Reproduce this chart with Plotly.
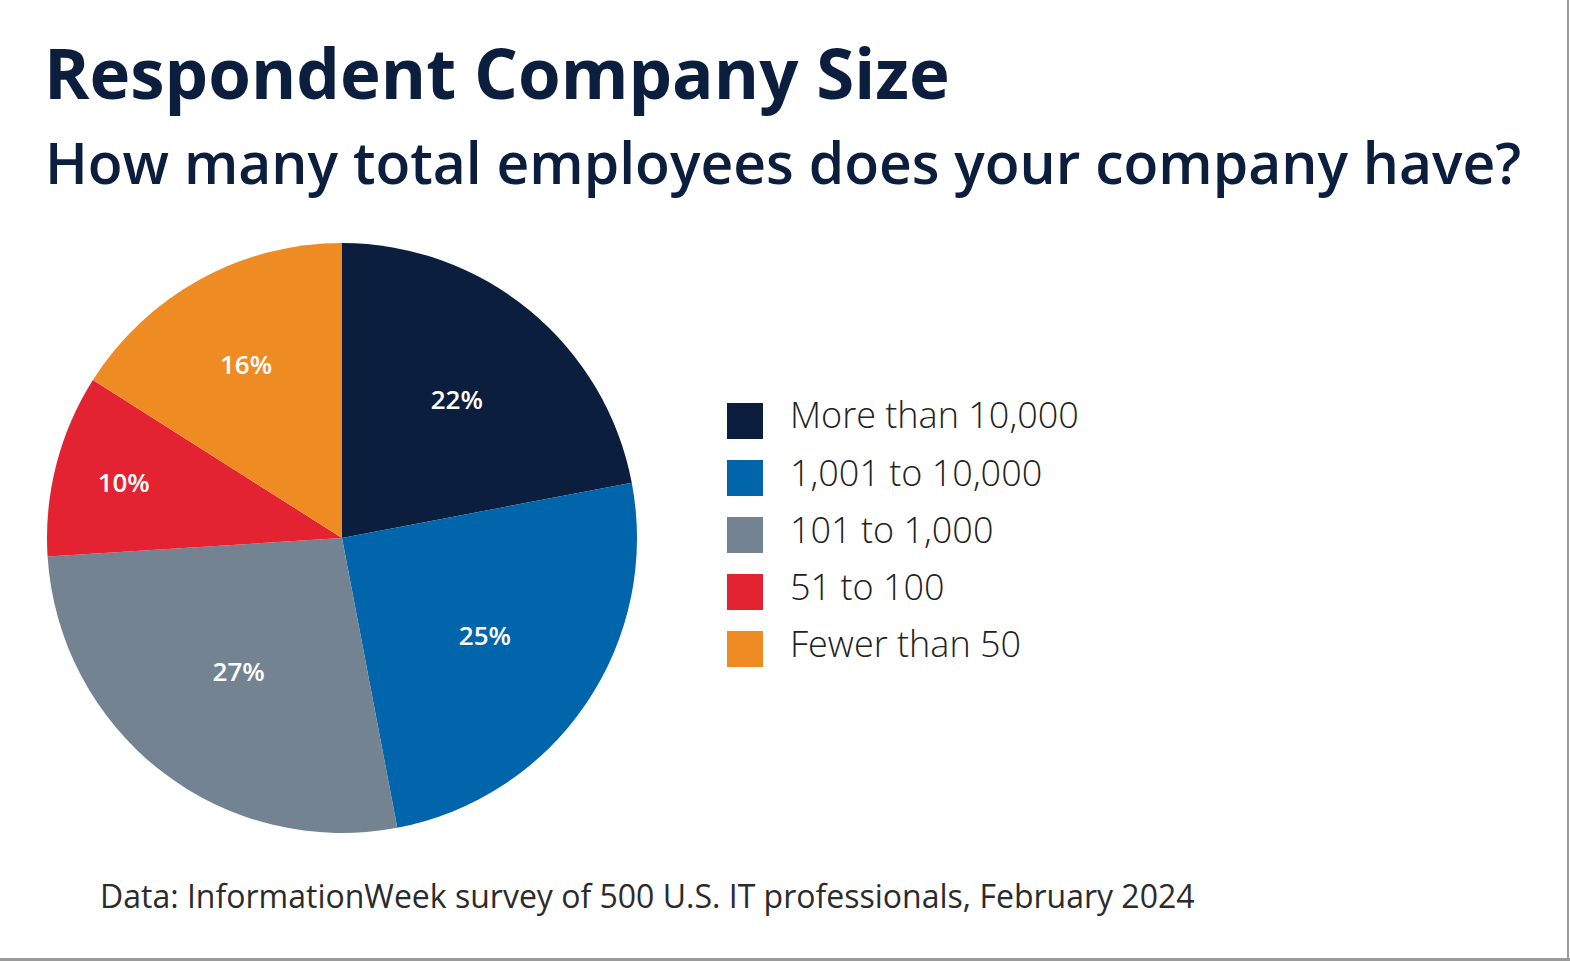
import plotly.graph_objects as go

W, H = 1570, 961

categories = ["More than 10,000", "1,001 to 10,000", "101 to 1,000", "51 to 100", "Fewer than 50"]
values = [22, 25, 27, 10, 16]
colors = ["#0B1E3D", "#0065AA", "#738391", "#E32232", "#EE8B22"]

title = "Respondent Company Size"
subtitle = "How many total employees does your company have?"
source = "Data: InformationWeek survey of 500 U.S. IT professionals, February 2024"

FONT = "Open Sans"
NAVY = "#0B1E3D"

def px_x(x):
    return x / W

def px_y(y):
    return 1 - y / H

fig = go.Figure()
fig.add_trace(go.Pie(
    labels=categories,
    values=values,
    sort=False,
    direction="clockwise",
    rotation=0,
    marker=dict(colors=colors, line=dict(width=0)),
    texttemplate="%{value}%",
    textposition="inside",
    insidetextorientation="horizontal",
    insidetextfont=dict(family=FONT, size=26, color="white", weight=600),
    domain=dict(x=[px_x(47), px_x(637)], y=[px_y(833), px_y(243)]),
    showlegend=False,
    hoverinfo="label+percent",
))

annotations = [
    dict(text=title, x=px_x(42), y=px_y(72), xanchor="left", yanchor="middle",
         font=dict(family=FONT, size=69, color=NAVY, weight=700)),
    dict(text=subtitle, x=px_x(43), y=px_y(162), xanchor="left", yanchor="middle",
         font=dict(family=FONT, size=57, color=NAVY, weight=600)),
    dict(text=source, x=px_x(98), y=px_y(895), xanchor="left", yanchor="middle",
         font=dict(family=FONT, size=32, color="#2B2B2B", weight=400)),
]
shapes = []
leg_x0, leg_y0, leg_step, sq = 727, 421, 57, 36
for i, (cat, col) in enumerate(zip(categories, colors)):
    cy = leg_y0 + i * leg_step
    shapes.append(dict(type="rect", xref="paper", yref="paper",
                       x0=px_x(leg_x0), x1=px_x(leg_x0 + sq),
                       y0=px_y(cy + sq / 2), y1=px_y(cy - sq / 2),
                       fillcolor=col, line=dict(width=0)))
    annotations.append(dict(text=cat, x=px_x(788), y=px_y(cy - 6), xanchor="left", yanchor="middle",
                            font=dict(family=FONT, size=36, color="#222222", weight=300)))

# frame lines at right and bottom edges
shapes.append(dict(type="line", xref="paper", yref="paper", x0=px_x(1568), x1=px_x(1568),
                   y0=0, y1=1, line=dict(color="#9A9A9A", width=2)))
shapes.append(dict(type="line", xref="paper", yref="paper", x0=0, x1=1,
                   y0=px_y(959.5), y1=px_y(959.5), line=dict(color="#9A9A9A", width=3)))

for a in annotations:
    a.update(xref="paper", yref="paper", showarrow=False)

fig.update_layout(
    width=W, height=H,
    margin=dict(l=0, r=0, t=0, b=0),
    paper_bgcolor="white", plot_bgcolor="white",
    annotations=annotations, shapes=shapes,
)

fig.write_html("out.html")
